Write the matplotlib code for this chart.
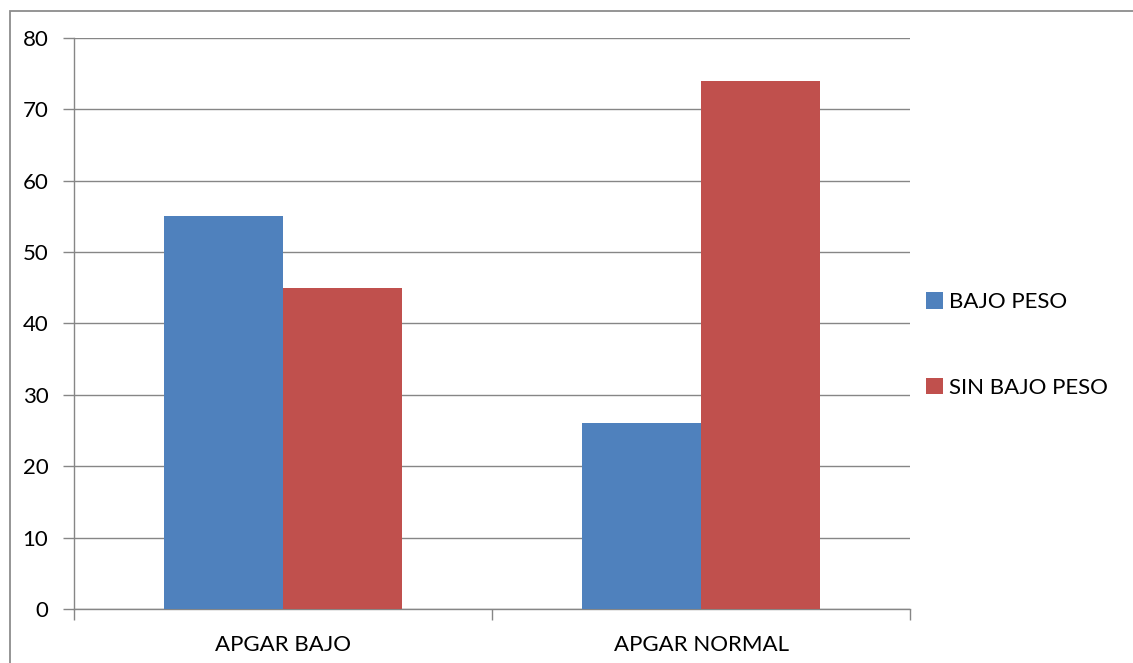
import matplotlib
matplotlib.use("Agg")
import matplotlib.pyplot as plt
from matplotlib.patches import Rectangle
import numpy as np

categories = ["APGAR BAJO", "APGAR NORMAL"]
series_names = ["BAJO PESO", "SIN BAJO PESO"]
bajo_peso = [55, 26]
sin_bajo_peso = [45, 74]
y_ticks = [0, 10, 20, 30, 40, 50, 60, 70, 80]

plt.rcParams['font.family'] = ['Lato', 'DejaVu Sans']

W, H = 1133, 663
fig = plt.figure(figsize=(W / 100, H / 100), dpi=100)

# chart-area frame
fig.patches.append(Rectangle((10 / W, -0.1), 1.2, (H - 11) / H + 0.1,
                             transform=fig.transFigure, fill=False,
                             edgecolor='#8c8c8c', linewidth=1.3))

ax = fig.add_axes([74 / W, (H - 609) / H, (910 - 74) / W, (609 - 38) / H])

x = np.arange(len(categories))
bw = 119 / 418
colors = ['#4F81BD', '#C0504D']
ax.bar(x - bw / 2, bajo_peso, width=bw, color=colors[0], label=series_names[0], zorder=3)
ax.bar(x + bw / 2, sin_bajo_peso, width=bw, color=colors[1], label=series_names[1], zorder=3)

ax.set_xlim(-0.5, len(categories) - 0.5)
ax.set_ylim(0, 80)
ax.set_yticks(y_ticks)
ax.set_yticklabels([str(v) for v in y_ticks])
ax.yaxis.grid(True, color='#868686', linewidth=1.0, zorder=0)
ax.set_axisbelow(True)

# category labels centred, tick marks at category boundaries
ax.set_xticks(x)
ax.set_xticklabels(categories)
ax.set_xticks(np.arange(len(categories) + 1) - 0.5, minor=True)
ax.tick_params(axis='x', which='major', length=0, pad=19, labelsize=16)
ax.tick_params(axis='x', which='minor', length=8, width=1.0, color='#868686', direction='out')
ax.tick_params(axis='y', length=8, width=1.0, color='#868686', direction='out', pad=10.5, labelsize=16)

for side in ['top', 'right']:
    ax.spines[side].set_visible(False)
for side in ['left', 'bottom']:
    ax.spines[side].set_color('#868686')
    ax.spines[side].set_linewidth(1.0)

leg = ax.legend(loc='center left', bbox_to_anchor=(926 / W, (H - 345) / H),
                bbox_transform=fig.transFigure, frameon=False, fontsize=16,
                handlelength=0.75, handleheight=0.75, handletextpad=0.3,
                labelspacing=2.96, borderaxespad=0, borderpad=0)

fig.savefig("out.png", dpi=100)
